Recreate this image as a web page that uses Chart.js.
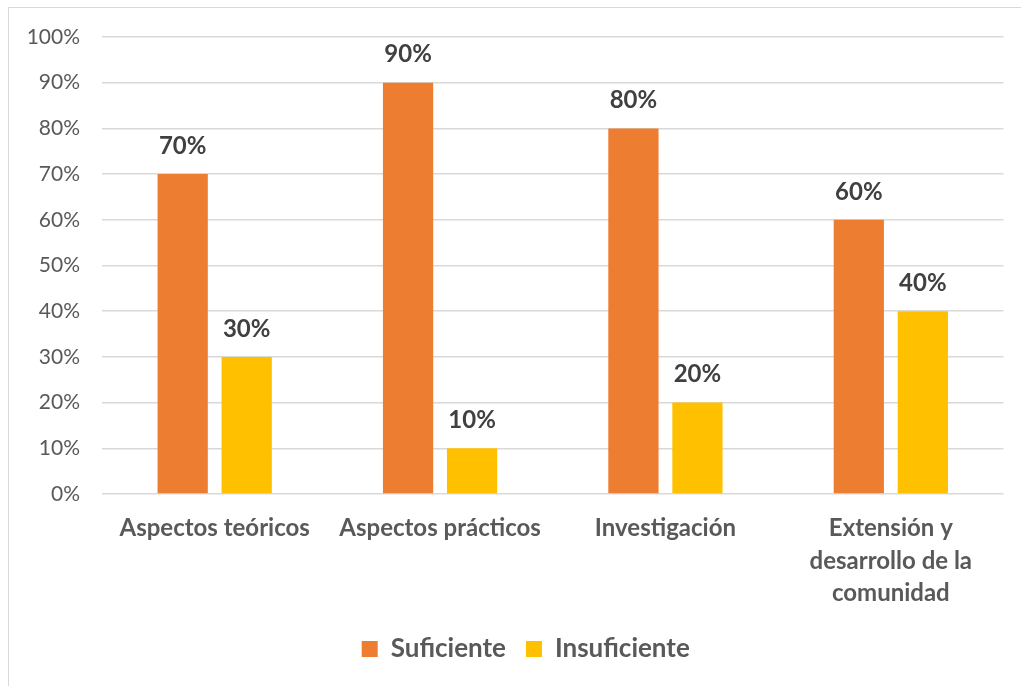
<!DOCTYPE html>
<html>
<head>
<meta charset="utf-8">
<script src="https://cdn.jsdelivr.net/npm/chart.js@4.4.1/dist/chart.umd.min.js"></script>
<style>
  html, body { margin: 0; padding: 0; background: #fff; overflow: hidden; }
  #frame { position: absolute; left: 8px; top: 7px; width: 1100px; height: 800px; border: 1px solid #d9d9d9; }
  #wrap { position: absolute; left: 0; top: 0; width: 1021px; height: 686px; }
</style>
</head>
<body>
<div id="frame"></div>
<div id="wrap"><canvas id="chart" width="1021" height="686"></canvas></div>
<script>
// datos del gráfico
const categories = [
    'Aspectos teóricos',
    'Aspectos prácticos',
    'Investigación',
    ['Extensión y', 'desarrollo de la', 'comunidad']
];
const suficiente = [0.7, 0.9, 0.8, 0.6];
const insuficiente = [0.3, 0.1, 0.2, 0.4];
const yTicks = [0, 0.1, 0.2, 0.3, 0.4, 0.5, 0.6, 0.7, 0.8, 0.9, 1];

const FONT = 'Lato, "Open Sans", sans-serif';

// etiquetas de valor encima de las barras
const valueLabels = {
    id: 'valueLabels',
    afterDatasetsDraw(chart) {
        const ctx = chart.ctx;
        ctx.save();
        ctx.font = 'bold 24px ' + FONT;
        ctx.fillStyle = '#404040';
        ctx.textAlign = 'center';
        ctx.textBaseline = 'bottom';
        chart.data.datasets.forEach((ds, i) => {
            chart.getDatasetMeta(i).data.forEach((bar, j) => {
                ctx.fillText(Math.round(ds.data[j] * 100) + '%', bar.x, bar.y - 16);
            });
        });
        ctx.restore();
    }
};

// la leyenda del original está algo desplazada a la derecha
const legendShift = {
    id: 'legendShift',
    afterLayout(chart) {
        if (!chart.legend) return;
        chart.legend.left += 23;
        chart.legend.right += 23;
    }
};

new Chart(document.getElementById('chart'), {
    type: 'bar',
    data: {
        labels: categories,
        datasets: [
            { label: 'Suficiente', data: suficiente, backgroundColor: '#ED7D31' },
            { label: 'Insuficiente', data: insuficiente, backgroundColor: '#FFC000' }
        ]
    },
    options: {
        responsive: false,
        animation: false,
        devicePixelRatio: 1,
        categoryPercentage: 0.568,
        barPercentage: 0.785,
        layout: { padding: { left: 2, right: 17.5, top: 37, bottom: 14 } },
        plugins: {
            legend: {
                position: 'bottom',
                labels: {
                    color: '#595959',
                    font: { size: 26, weight: 'bold', family: FONT },
                    boxWidth: 16, boxHeight: 16,
                    padding: 20
                }
            },
            tooltip: { enabled: false }
        },
        scales: {
            x: {
                grid: { display: false },
                border: { display: false },
                ticks: {
                    color: '#595959',
                    font: { size: 24, weight: 'bold', family: FONT, lineHeight: 1.36 },
                    maxRotation: 0, autoSkip: false, padding: 10
                },
                afterFit: s => { s.height = 122; }
            },
            y: {
                min: 0, max: 1,
                afterBuildTicks: s => { s.ticks = yTicks.map(v => ({ value: v })); },
                grid: { color: '#d9d9d9', lineWidth: 1.5, drawTicks: false },
                border: { display: false },
                ticks: {
                    color: '#595959',
                    font: { size: 21, family: FONT },
                    padding: 22,
                    callback: v => Math.round(v * 100) + '%'
                },
                afterFit: s => { s.width = 100; }
            }
        }
    },
    plugins: [valueLabels, legendShift]
});
</script>
</body>
</html>
